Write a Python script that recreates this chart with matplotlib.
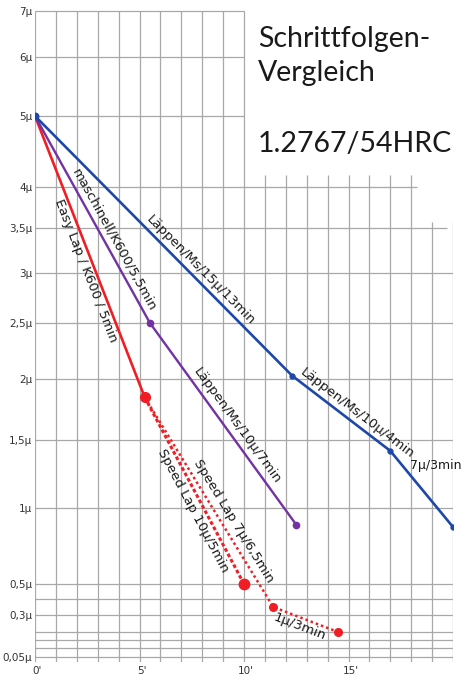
import numpy as np
import matplotlib.pyplot as plt
from matplotlib.transforms import ScaledTranslation

# hand-made y axis of the original: grid values and their pixel rows
GRID_VALS = [0.05, 0.1, 0.15, 0.2, 0.3, 0.4, 0.5, 1, 1.5, 2, 2.5, 3, 3.5, 4, 5, 6, 7]
GRID_PIX = [657, 648, 640, 632, 615, 599, 584, 508, 440, 379, 323, 273, 228, 187, 116, 57, 11]
YTICKS = [0.05, 0.3, 0.5, 1, 1.5, 2, 2.5, 3, 3.5, 4, 5, 6, 7]
YTICK_LABELS = ["0,05µ", "0,3µ", "0,5µ", "1µ", "1,5µ", "2µ", "2,5µ", "3µ", "3,5µ", "4µ", "5µ", "6µ", "7µ"]
XTICKS = [0, 5, 10, 15]
XTICK_LABELS = ["0'", "5'", "10'", "15'"]

# series (minutes, roughness in µ)
blue_x = [0, 12.3, 17, 20]
blue_y = [5, 2.03, 1.42, 0.875]
purple_x = [0, 5.5, 12.5]
purple_y = [5, 2.5, 0.89]
easy_x = [0, 5.25]
easy_y = [5, 1.85]
speed10_x = [5.25, 10]
speed10_y = [1.85, 0.5]
speed7_x = [5.25, 11.4, 14.5]
speed7_y = [1.85, 0.35, 0.2]

BLUE = "#1d47a8"
PURPLE = "#7232a4"
RED = "#f01e24"
GRID = "#a8a8a8"

_v = np.array([0.0] + GRID_VALS + [9.0])
_p = -np.array([666] + GRID_PIX + [-81], dtype=float)


def fwd(v):
    return np.interp(v, _v, _p)


def inv(p):
    return np.interp(p, _p, _v)


def seg_label(ax, x, y, i, text, frac, off, size=9.5):
    a = ax.transData.transform((x[i], y[i]))
    b = ax.transData.transform((x[i + 1], y[i + 1]))
    d = b - a
    ang = np.degrees(np.arctan2(d[1], d[0]))
    n = np.array([-d[1], d[0]]) / np.hypot(*d)
    pos = a + frac * d + off * n
    px, py = ax.transData.inverted().transform(pos)
    ax.text(px, py, text, rotation=ang, rotation_mode="anchor", ha="center", va="center",
            fontsize=size, color="#1a1a1a", zorder=6)


fig = plt.figure(figsize=(4.65, 6.78), dpi=100)
ax = fig.add_axes([35 / 465, 1 - 662 / 678, 418 / 465, 654 / 678])
ax.set_yscale("function", functions=(fwd, inv))
ax.set_xlim(0, 20)
y0, y1 = inv(-662), inv(-8)
ax.set_ylim(y0, y1)
for s in ax.spines.values():
    s.set_visible(False)

# grid, cut out round the title
for m in range(21):
    top = 7 if m <= 10 else (4.17 if m <= 18 else 3.57)
    ax.vlines(m, y0, top, color=GRID, lw=0.9, zorder=1)
for v in GRID_VALS:
    right = 10 if v >= 5 else (18.3 if v == 4 else (19.7 if v == 3.5 else 20))
    ax.hlines(v, 0, right, color=GRID, lw=0.9, zorder=1)

ax.set_yticks(YTICKS)
ax.set_yticklabels(YTICK_LABELS)
ax.set_xticks(XTICKS)
ax.set_xticklabels(XTICK_LABELS)
ax.yaxis.set_minor_locator(plt.NullLocator())
ax.tick_params(length=0, labelsize=7.5, labelcolor="#333333")
ax.tick_params(axis="y", pad=2)
ax.tick_params(axis="x", pad=3)
for lab in ax.get_xticklabels():
    lab.set_transform(lab.get_transform() + ScaledTranslation(2 / 100, 0, fig.dpi_scale_trans))

ax.plot(easy_x, easy_y, color=RED, lw=1.9, zorder=3)
ax.plot(speed10_x, speed10_y, color=RED, lw=2.2, ls=(0, (1.2, 0.8)), zorder=3)
ax.plot(speed7_x, speed7_y, color=RED, lw=1.8, ls=(0, (1, 1.2)), zorder=3)
ax.plot(easy_x[1], easy_y[1], "o", color=RED, ms=7, zorder=4)
ax.plot(speed10_x[1], speed10_y[1], "o", color=RED, ms=7.5, zorder=4)
ax.plot(speed7_x[1:], speed7_y[1:], "o", color=RED, ms=5.5, zorder=4)
ax.plot(purple_x, purple_y, color=PURPLE, lw=1.7, marker="o", ms=4.5, zorder=4)
ax.plot(blue_x, blue_y, color=BLUE, lw=1.9, marker="o", ms=3.5, zorder=5)
ax.plot(blue_x[0], blue_y[0], "o", color=BLUE, ms=4.5, zorder=5)

fig.canvas.draw()
seg_label(ax, purple_x, purple_y, 0, "maschinell/K600/5,5min", 0.62, 9)
seg_label(ax, easy_x, easy_y, 0, "Easy Lap / K600 / 5min", 0.54, -9)
seg_label(ax, blue_x, blue_y, 0, "Läppen/Ms/15µ/13min", 0.62, 9)
seg_label(ax, purple_x, purple_y, 1, "Läppen/Ms/10µ/7min", 0.54, 10)
seg_label(ax, blue_x, blue_y, 1, "Läppen/Ms/10µ/4min", 0.6, 10)
seg_label(ax, speed10_x, speed10_y, 0, "Speed Lap 10µ/5min", 0.58, -10)
seg_label(ax, speed7_x, speed7_y, 0, "Speed Lap 7µ/6,5min", 0.62, 11)
seg_label(ax, speed7_x, speed7_y, 1, "1µ/3min", 0.45, -9)
ax.text(17.95, 1.31, "7µ/3min", fontsize=9, color="#1a1a1a", ha="left", va="center",
        clip_on=False, zorder=6)

# title block
for txt, ypix in [("Schrittfolgen-", 47), ("Vergleich", 81), ("1.2767/54HRC", 152)]:
    fig.text(258 / 465, 1 - ypix / 678, txt, fontsize=20.5, family=["Lato", "DejaVu Sans"],
             color="#1a1a1a", va="baseline", ha="left")

fig.savefig("out.png", dpi=100, facecolor="white")
